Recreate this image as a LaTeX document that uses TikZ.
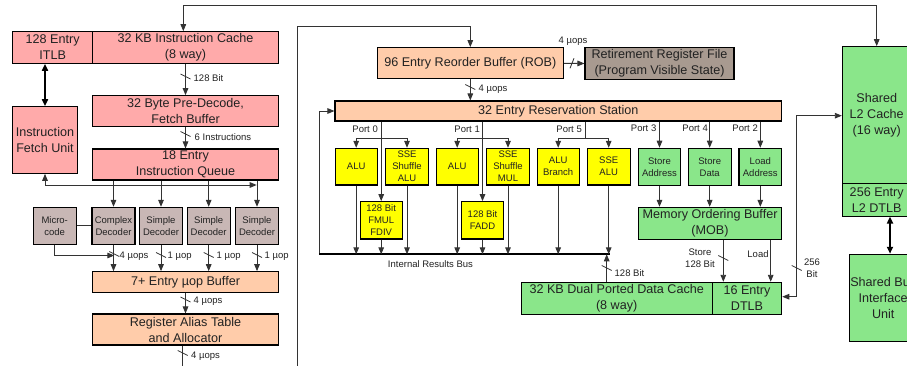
\documentclass[tikz,border=0pt]{standalone}
\usepackage{fontspec}
\setmainfont{Liberation Sans}
\usetikzlibrary{arrows.meta,calc}
\definecolor{pinkb}{HTML}{FFAAAA}
\definecolor{peach}{HTML}{FFCCAA}
\definecolor{yel}{HTML}{FFFF00}
\definecolor{grn}{HTML}{8AE68A}
\definecolor{decc}{HTML}{C8B7B5}
\definecolor{rrfc}{HTML}{A89A90}
\definecolor{txt}{HTML}{222222}
\definecolor{lnc}{HTML}{333333}
\newcommand\BigLbl{\fontsize{12.6}{16}\selectfont}
\newcommand\SmLbl{\fontsize{9.5}{12}\selectfont}
\begin{document}
\begin{tikzpicture}[x=1pt,y=-1pt,
  box/.style={draw=black,line width=1.1pt,inner sep=0pt,align=center,font=\BigLbl,text=txt},
  sbox/.style={box,font=\SmLbl},
  sz/.style 2 args={minimum width=#1pt,minimum height=#2pt},
  lbl/.style={font=\SmLbl,text=txt,inner sep=0.5pt,align=center},
  conn/.style={draw=lnc,line width=0.9pt},
  arr/.style={conn,-{Triangle[length=7pt,width=5.6pt]}},
  dblarr/.style={conn,{Triangle[length=7pt,width=5.6pt]}-{Triangle[length=7pt,width=5.6pt]}},
  thickdbl/.style={draw=black,line width=1.8pt,{Triangle[length=7pt,width=6pt]}-{Triangle[length=7pt,width=6pt]}},
  busline/.style={draw=black,line width=1.8pt},
  tick/.style={draw=lnc,line width=0.8pt}
]
\useasboundingbox (0,0) rectangle (907,366);
\clip (0,0) rectangle (907,366);
\fill[white] (0,0) rectangle (907,366);

% ---------- front end ----------
\node[box,fill=pinkb,sz={80}{31.6}] (itlb) at (52.7,47.5) {128 Entry\\ITLB};
\node[box,fill=pinkb,sz={185.6}{31.6}] (icache) at (185.5,47.5) {32 KB Instruction Cache\\(8 way)};
\node[box,fill=pinkb,sz={185.6}{31}] (predec) at (185.5,111.2) {32 Byte Pre-Decode,\\Fetch Buffer};
\node[box,fill=pinkb,sz={64.6}{66.6}] (fetch) at (45,140) {Instruction\\Fetch Unit};
\node[box,fill=pinkb,sz={185.6}{31}] (queue) at (185.5,164.5) {18 Entry\\Instruction Queue};
\node[sbox,fill=decc,sz={42.7}{36.7}] (micro) at (54.7,225.7) {Micro-\\code};
\node[sbox,fill=decc,sz={43}{36.7}] (cdec) at (113.5,225.7) {Complex\\Decoder};
\node[sbox,fill=decc,sz={43.4}{36.7}] (sdec1) at (161,225.7) {Simple\\Decoder};
\node[sbox,fill=decc,sz={42.7}{36.7}] (sdec2) at (208.7,225.7) {Simple\\Decoder};
\node[sbox,fill=decc,sz={43.4}{36.7}] (sdec3) at (257,225.7) {Simple\\Decoder};
\node[box,fill=peach,sz={185.6}{20.6}] (uopbuf) at (185.5,282) {7+ Entry µop Buffer};
\node[box,fill=peach,sz={185.6}{31}] (rat) at (185.5,329.5) {Register Alias Table\\and Allocator};

% ---------- out of order ----------
\node[box,fill=peach,sz={186}{31.3}] (rob) at (470.3,63.3) {96 Entry Reorder Buffer (ROB)};
\node[box,fill=rrfc,sz={149}{31.6}] (rrf) at (659.5,63.5) {Retirement Register File\\(Program Visible State)};
\node[box,fill=peach,sz={446.7}{20}] (rs) at (558.3,111) {32 Entry Reservation Station};

\node[sbox,fill=yel,sz={42.3}{36.7}] (alu1) at (356.2,166.7) {ALU};
\node[sbox,fill=yel,sz={42.6}{36.7}] (sse1) at (407,166.7) {SSE\\Shuffle\\ALU};
\node[sbox,fill=yel,sz={42.3}{37.3}] (fmul) at (381.2,220.3) {128 Bit\\FMUL\\FDIV};
\node[sbox,fill=yel,sz={42.3}{36.7}] (alu2) at (457.2,166.7) {ALU};
\node[sbox,fill=yel,sz={42.6}{36.7}] (sse2) at (508,166.7) {SSE\\Shuffle\\MUL};
\node[sbox,fill=yel,sz={42.3}{37.3}] (fadd) at (482.5,220.3) {128 Bit\\FADD};
\node[sbox,fill=yel,sz={42.3}{36.7}] (alubr) at (558.2,166.7) {ALU\\Branch};
\node[sbox,fill=yel,sz={42.7}{36.7}] (sse3) at (608.7,166.7) {SSE\\ALU};

\node[sbox,fill=grn,sz={42.4}{37.4}] (staddr) at (659.5,167) {Store\\Address};
\node[sbox,fill=grn,sz={42.7}{37.4}] (stdata) at (709.7,167) {Store\\Data};
\node[sbox,fill=grn,sz={42.7}{37.4}] (ldaddr) at (760.3,167) {Load\\Address};
\node[box,fill=grn,sz={143.4}{31.7}] (mob) at (710,223.2) {Memory Ordering Buffer\\(MOB)};
\node[box,fill=grn,sz={191.3}{31.7}] (dcache) at (616.7,298.2) {32 KB Dual Ported Data Cache\\(8 way)};
\node[box,fill=grn,sz={69.4}{31.7}] (dtlb) at (747,298.2) {16 Entry\\DTLB};

\node[box,fill=grn,sz={68.7}{136.6}] (l2) at (876.7,115) {Shared\\L2 Cache\\(16 way)};
\node[box,fill=grn,sz={68.7}{32.7}] (l2dtlb) at (876.7,199.7) {256 Entry\\L2 DTLB};
\node[box,fill=grn,sz={67.7}{87.4}] (biu) at (883.2,298) {Shared Bus\\Interface\\Unit};

% ---------- coordinates ----------
\coordinate (topL) at (183.3,5.7);
\coordinate (topR) at (876.7,5.7);
\coordinate (qbr) at (256.7,185);
\coordinate (mj) at (114.3,255.5);
\coordinate (ratout) at (182.7,366);
\coordinate (sepB) at (297,366);
\coordinate (sepT) at (297,26);
\coordinate (busL) at (319,254.3);
\coordinate (busR) at (610,254.3);
\coordinate (pbr) at (0,138.3);
\coordinate (p5) at (585,138.3);
\coordinate (dcu) at (606.7,254.3);
\coordinate (xst) at (723.3,0);
\coordinate (xld) at (770.7,0);
\coordinate (l2a) at (796.7,115.7);
\coordinate (l2b) at (796.7,296.7);
\coordinate (l2x) at (890,0);

% ---------- connectors: front end ----------
\draw[dblarr] (icache.north -| topL) -- (topL) -- (topR) -- (l2.north -| topR);
\draw[arr] (icache.south) -- (predec.north);
\draw[arr] (predec.south) -- (queue.north);
\draw[thickdbl] (itlb.south -| fetch) -- (fetch.north);
\draw[dblarr] (qbr) -- (qbr -| fetch) -- (fetch.south);
\draw[arr] (queue.south -| cdec) -- (cdec.north);
\draw[arr] (queue.south -| sdec1) -- (sdec1.north);
\draw[arr] (queue.south -| sdec2) -- (sdec2.north);
\draw[arr] (queue.south -| sdec3) -- (sdec3.north);
\draw[conn] (micro.east) -- (cdec.west);
\draw[arr] (micro.south) |- (mj);
\draw[arr] (cdec.south) -- (cdec.south |- uopbuf.north);
\draw[arr] (sdec1.south) -- (sdec1.south |- uopbuf.north);
\draw[arr] (sdec2.south) -- (sdec2.south |- uopbuf.north);
\draw[arr] (sdec3.south) -- (sdec3.south |- uopbuf.north);
\draw[arr] (uopbuf.south) -- (rat.north);
\draw[conn] (rat.south -| ratout) -- (ratout);

% ---------- connectors: back end ----------
\draw[arr] (sepB) -- (sepT) -| (rob.north);
\draw[arr] (rob.east) -- (rrf.west);
\draw[arr] (rob.south) -- (rob.south |- rs.north);
\draw[arr] (busL) |- (rs.west);
\draw[busline] (busL) -- (busR);

% port 0
\draw[arr] (rs.south -| fmul) -- (fmul.north);
\draw[conn] (alu1 |- pbr) -- (sse1 |- pbr);
\draw[arr] (alu1 |- pbr) -- (alu1.north);
\draw[arr] (sse1 |- pbr) -- (sse1.north);
% port 1
\draw[arr] (rs.south -| fadd) -- (fadd.north);
\draw[conn] (alu2 |- pbr) -- (sse2 |- pbr);
\draw[arr] (alu2 |- pbr) -- (alu2.north);
\draw[arr] (sse2 |- pbr) -- (sse2.north);
% port 5
\draw[conn] (rs.south -| p5) -- (p5);
\draw[conn] (alubr |- pbr) -- (sse3 |- pbr);
\draw[arr] (alubr |- pbr) -- (alubr.north);
\draw[arr] (sse3 |- pbr) -- (sse3.north);
% results
\draw[arr] (alu1.south) -- (alu1 |- busL);
\draw[arr] (fmul.south) -- (fmul |- busL);
\draw[arr] (sse1.south) -- (sse1 |- busL);
\draw[arr] (alu2.south) -- (alu2 |- busL);
\draw[arr] (fadd.south) -- (fadd |- busL);
\draw[arr] (sse2.south) -- (sse2 |- busL);
\draw[arr] (alubr.south) -- (alubr |- busL);
\draw[arr] (sse3.south) -- (sse3 |- busL);
% ports 3,4,2
\draw[arr] (rs.south -| staddr) -- (staddr.north);
\draw[arr] (rs.south -| stdata) -- (stdata.north);
\draw[arr] (rs.south -| ldaddr) -- (ldaddr.north);
\draw[arr] (staddr.south) -- (staddr.south |- mob.north);
\draw[arr] (stdata.south) -- (stdata.south |- mob.north);
\draw[arr] (ldaddr.south) -- (ldaddr.south |- mob.north);
% memory
\draw[arr] (dcache.north -| dcu) -- (dcu);
\draw[arr] (mob.south -| xst) -- (dtlb.north -| xst);
\draw[arr] (mob.south -| xld) -- (dtlb.north -| xld);
\draw[dblarr] (l2.west |- l2a) -- (l2a) -- (l2b) -- (dtlb.east |- l2b);
\draw[thickdbl] (l2dtlb.south -| l2x) -- (biu.north -| l2x);

% ---------- width ticks ----------
\draw[tick] (185.5,76.5) ++(-5,-2.5) -- ++(10,5);
\draw[tick] (185.5,134) ++(-5,-2.5) -- ++(10,5);
\draw[tick] (114.3,254) ++(-5,-2.5) -- ++(10,5);
\draw[tick] (161,255) ++(-5,-2.5) -- ++(10,5);
\draw[tick] (208.7,255) ++(-5,-2.5) -- ++(10,5);
\draw[tick] (257,255) ++(-5,-2.5) -- ++(10,5);
\draw[tick] (185.5,299.5) ++(-5,-2.5) -- ++(10,5);
\draw[tick] (182.7,353) ++(-5,-2.5) -- ++(10,5);
\draw[tick] (470.3,87) ++(-5,-2.5) -- ++(10,5);
\draw[tick] (606.7,268) ++(-5,-2.5) -- ++(10,5);
\draw[tick] (723.3,258) ++(-5,-2.5) -- ++(10,5);
\draw[tick] (796.7,268) ++(-5,-2.5) -- ++(10,5);
\draw[tick] (572,63.3) ++(-2,5) -- ++(4,-10);

% ---------- labels ----------
\node[lbl,anchor=west] (l128a) at (193,78) {128 Bit};
\node[lbl,anchor=west] (l6i) at (194,137) {6 Instructions};
\node[lbl,anchor=west] (lu0) at (119,256.5) {4 µops};
\node[lbl,anchor=west] (lu1) at (167,256.5) {1 µop};
\node[lbl,anchor=west] (lu2) at (216,256.5) {1 µop};
\node[lbl,anchor=west] (lu3) at (264,256.5) {1 µop};
\node[lbl,anchor=west] (lu5) at (193,301) {4 µops};
\node[lbl,anchor=west] (lu6) at (190.5,356) {4 µops};
\node[lbl] (lrr) at (573,41) {4 µops};
\node[lbl,anchor=west] (lrs) at (478,89) {4 µops};
\node[lbl,anchor=east] (lp0) at (378.5,129.5) {Port 0};
\node[lbl,anchor=east] (lp1) at (480.5,129.5) {Port 1};
\node[lbl,anchor=east] (lp5) at (582.5,129.5) {Port 5};
\node[lbl,anchor=east] (lp3) at (657,128.5) {Port 3};
\node[lbl,anchor=east] (lp4) at (708.5,128.5) {Port 4};
\node[lbl,anchor=east] (lp2) at (758.5,128.5) {Port 2};
\node[lbl] (lbus) at (430.5,264) {Internal Results Bus};
\node[lbl,anchor=west] (l128b) at (614,273.3) {128 Bit};
\node[lbl] (lst) at (700,258.5) {Store\\128 Bit};
\node[lbl] (lld) at (758,254.3) {Load};
\node[lbl] (l256) at (812,268.3) {256\\Bit};
\end{tikzpicture}
\end{document}
